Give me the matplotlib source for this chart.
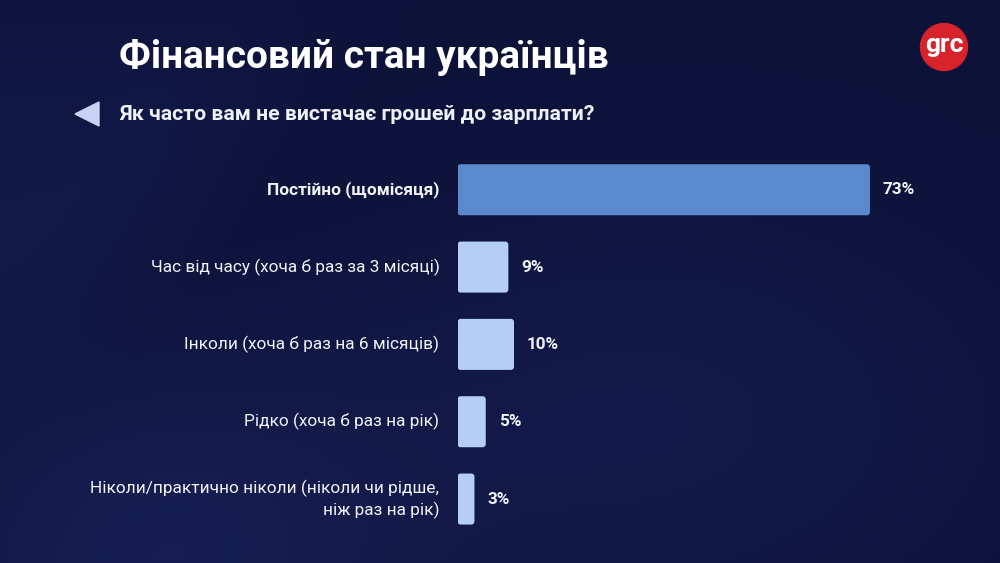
import numpy as np
import matplotlib.pyplot as plt
from matplotlib.patches import FancyBboxPatch, Circle, Polygon
from matplotlib.colors import LinearSegmentedColormap

plt.rcParams['font.family'] = ['Roboto', 'DejaVu Sans']

title = 'Фінансовий стан українців'
question = 'Як часто вам не вистачає грошей до зарплати?'
categories = [
    'Постійно (щомісяця)',
    'Час від часу (хоча б раз за 3 місяці)',
    'Інколи (хоча б раз на 6 місяців)',
    'Рідко (хоча б раз на рік)',
    'Ніколи/практично ніколи (ніколи чи рідше,\nніж раз на рік)',
]
values = [73, 9, 10, 5, 3]
value_labels = ['73%', '9%', '10%', '5%', '3%']

W, H = 1000, 563
fig = plt.figure(figsize=(W / 100, H / 100), dpi=100)

# background: dark navy with soft lighter diagonal areas
bg = fig.add_axes([0, 0, 1, 1])
bg.set_xlim(0, W)
bg.set_ylim(H, 0)
bg.axis('off')
yy, xx = np.mgrid[0:H, 0:W]
glow = 0.55 * np.exp(-(((xx - 150) / 260.0) ** 2 + ((yy - 560) / 200.0) ** 2))
glow += 0.35 * np.exp(-(((xx - 650) / 350.0) ** 2 + ((yy - 420) / 220.0) ** 2))
band = np.clip((xx + yy * 0.9 - 250) / 200.0, 0, 1)
glow += 0.3 * (1 - band) * np.exp(-((yy - 200) / 200.0) ** 2)
cmap = LinearSegmentedColormap.from_list('navy', ['#0d1239', '#1d2864'])
bg.imshow(np.clip(glow, 0, 1), cmap=cmap, extent=[0, W, H, 0], aspect='auto', vmin=0, vmax=1)

bg.text(119, 57, title, fontsize=28, fontweight='bold', color='white', va='center', ha='left')
bg.add_patch(Polygon([[75, 114], [99, 102], [99, 126]], closed=True, color='#c9d3f5'))
bg.text(119, 114, question, fontsize=15.3, fontweight='bold', color='#eef0fa', va='center', ha='left')

bg.add_patch(Circle((944, 47), 23.5, color='#d8232a'))
bg.text(944, 45, 'grc', fontsize=19, color='white', fontweight='bold', ha='center', va='center')

# bars
ax = fig.add_axes([457.5 / W, 1 - 537.7 / H, 80 * 5.65 / W, 386.6 / H])
ax.set_xlim(0, 80)
ax.set_ylim(4.5, -0.5)
ax.axis('off')
colors = ['#5b89cd'] + ['#b6cef5'] * 4
bars = ax.barh(range(len(values)), values, height=0.66, color=colors)
px_x = 5.65
px_y = 386.6 / 5
for b in bars:
    x0, y0 = b.get_x(), b.get_y()
    w, h = b.get_width(), b.get_height()
    fb = FancyBboxPatch((x0, y0), w, h, boxstyle='round,pad=0,rounding_size=0.55',
                        mutation_aspect=px_x / px_y, facecolor=b.get_facecolor(),
                        edgecolor='none')
    b.set_visible(False)
    ax.add_patch(fb)

for i, (v, lab) in enumerate(zip(values, value_labels)):
    ax.text(v + 2.3, i, lab, fontsize=12.3, fontweight='bold', color='#f2f3f8',
            va='center', ha='left')

for i, cat in enumerate(categories):
    ax.text(-3.2, i, cat, fontsize=12.4, color='#f2f3f8', va='center', ha='right',
            fontweight='bold' if i == 0 else 'normal', linespacing=1.35)

fig.savefig('out.png', dpi=100)
